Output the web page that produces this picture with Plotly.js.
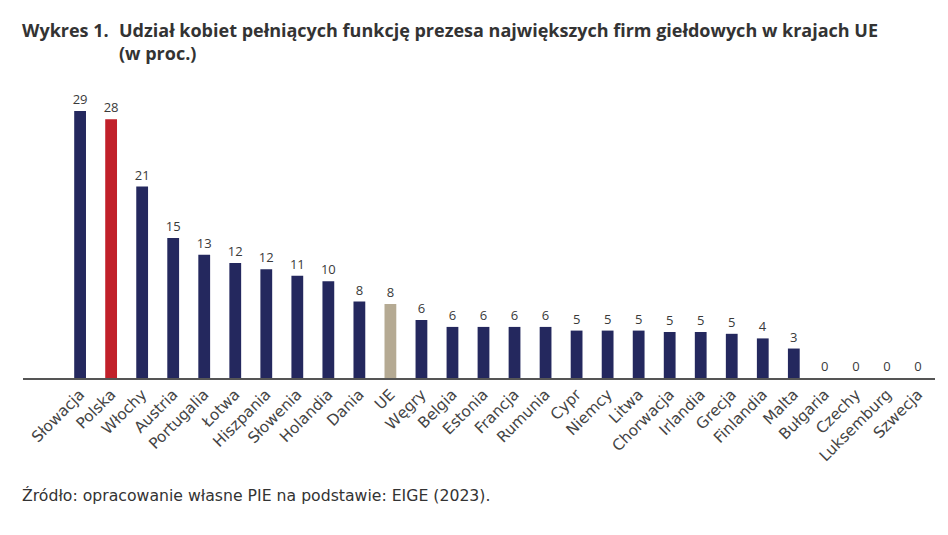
<!DOCTYPE html>
<html>
<head>
<meta charset="utf-8">
<script src="https://cdn.plot.ly/plotly-3.0.1.min.js"></script>
<style>
  html, body { margin: 0; padding: 0; background: #fff; }
  #chart { width: 948px; height: 535px; }
</style>
</head>
<body>
<div id="chart"></div>
<script>
// kraje UE, udział kobiet-prezesów (w proc.)
const kraje = ['Słowacja', 'Polska', 'Włochy', 'Austria', 'Portugalia', 'Łotwa', 'Hiszpania',
  'Słowenia', 'Holandia', 'Dania', 'UE', 'Węgry', 'Belgia', 'Estonia', 'Francja', 'Rumunia',
  'Cypr', 'Niemcy', 'Litwa', 'Chorwacja', 'Irlandia', 'Grecja', 'Finlandia', 'Malta',
  'Bułgaria', 'Czechy', 'Luksemburg', 'Szwecja'];
const udzial = [29, 28.1, 20.8, 15.2, 13.4, 12.5, 11.8, 11.1, 10.5, 8.3, 8.05, 6.3, 5.55, 5.55,
  5.55, 5.55, 5.15, 5.15, 5.15, 5.0, 5.0, 4.8, 4.3, 3.2, 0, 0, 0, 0];
const etykiety = ['29', '28', '21', '15', '13', '12', '12', '11', '10', '8', '8', '6', '6', '6',
  '6', '6', '5', '5', '5', '5', '5', '5', '4', '3', '0', '0', '0', '0'];

const granat = '#24285e';
const kolory = kraje.map(k => k === 'Polska' ? '#c1202a' : (k === 'UE' ? '#b5aa93' : granat));

const trace = {
  type: 'bar',
  x: kraje,
  y: udzial,
  text: etykiety,
  textposition: 'outside',
  constraintext: 'none',
  textfont: { family: 'Open Sans', size: 13, color: '#3a3a3a' },
  cliponaxis: false,
  width: 0.38,
  marker: { color: kolory, line: { width: 0 } },
  hoverinfo: 'x+text'
};

const layout = {
  width: 948, height: 535,
  margin: { l: 23, r: 13, t: 95, b: 157 },
  paper_bgcolor: '#ffffff', plot_bgcolor: '#ffffff',
  showlegend: false,
  xaxis: {
    range: [-1.84, 27.55],
    tickangle: -45,
    tickfont: { family: 'DejaVu Sans', size: 15.3, color: '#444' },
    showgrid: false, zeroline: false,
    showline: true, linecolor: '#555', linewidth: 1.5,
    ticks: '', fixedrange: true
  },
  yaxis: {
    range: [0, 30.74],
    visible: false, showgrid: false, zeroline: false, fixedrange: true
  },
  annotations: [
    { text: '<b>Wykres 1.</b>', xref: 'paper', yref: 'paper', x: 0, y: 1, xanchor: 'left', yanchor: 'middle',
      showarrow: false, font: { family: 'Open Sans', size: 18, color: '#333' } },
    { text: '<b>Udział kobiet pełniących funkcję prezesa największych firm giełdowych w krajach UE<br>(w proc.)</b>',
      xref: 'paper', yref: 'paper', x: 0, y: 1, xanchor: 'left', yanchor: 'middle', align: 'left',
      showarrow: false, font: { family: 'Open Sans', size: 18, color: '#333' } },
    { text: 'Źródło: opracowanie własne PIE na podstawie: EIGE (2023).', xref: 'paper', yref: 'paper',
      x: 0, y: 0, xanchor: 'left', yanchor: 'middle', showarrow: false,
      font: { family: 'DejaVu Sans', size: 15.7, color: '#333' } }
  ]
};

// positions of the texts in pixels, converted to paper coords
const plotW = 948 - 23 - 13, plotH = 535 - 95 - 157;
function px(x) { return (x - 23) / plotW; }
function py(y) { return (535 - 157 - y) / plotH; }
layout.annotations[0].x = px(20); layout.annotations[0].y = py(30);
layout.annotations[1].x = px(117); layout.annotations[1].y = py(41.5);
layout.annotations[2].x = px(20); layout.annotations[2].y = py(495);

Plotly.newPlot('chart', [trace], layout, { displayModeBar: false, staticPlot: true });
</script>
</body>
</html>
